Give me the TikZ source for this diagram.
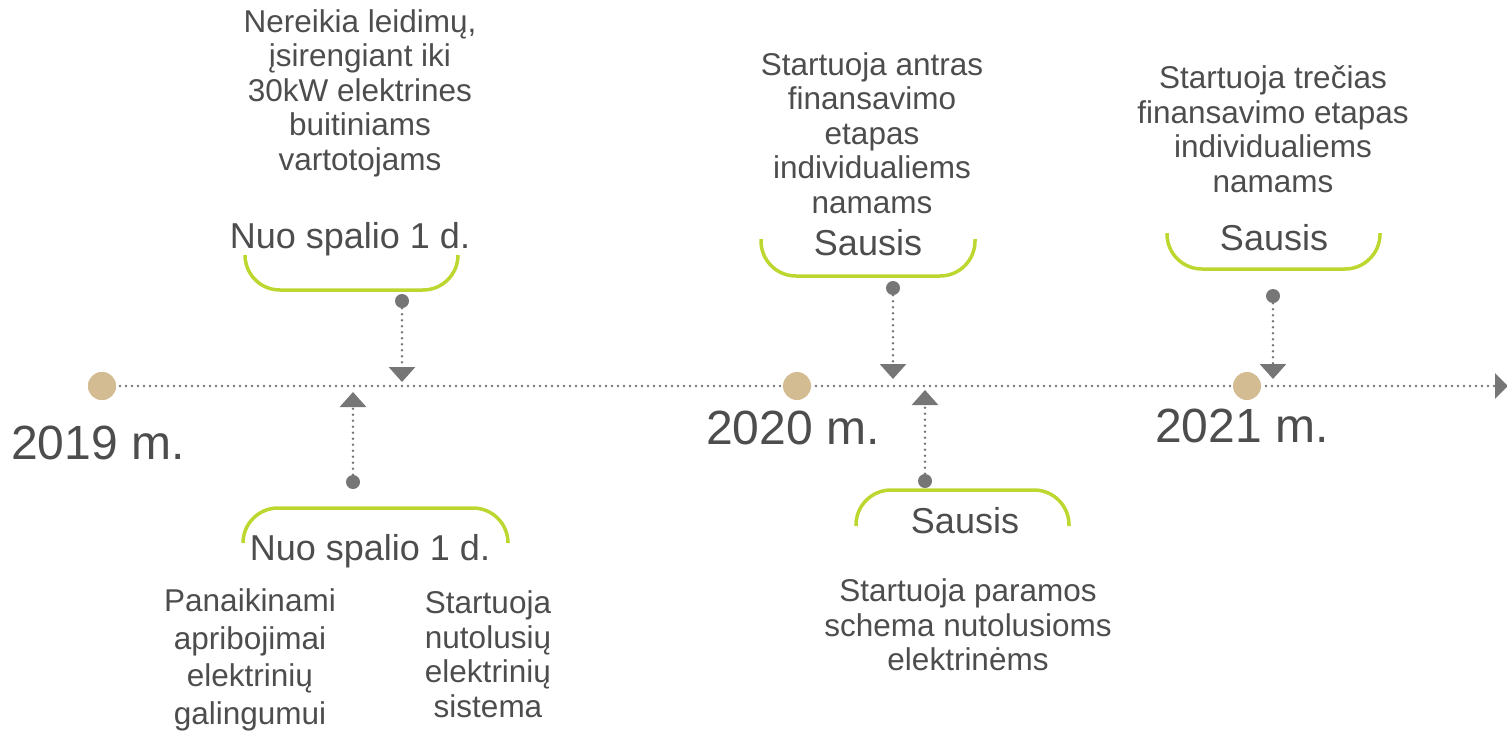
\documentclass[tikz,border=0pt]{standalone}
\usepackage{fontspec}
\setmainfont{Liberation Sans}
\usetikzlibrary{arrows.meta}
\definecolor{txt}{HTML}{4D4D4D}
\definecolor{grn}{HTML}{BED630}
\definecolor{tanc}{HTML}{D3BB92}
\definecolor{gry}{HTML}{767676}
\begin{document}
\begin{tikzpicture}[x=1pt,y=-1pt,
  yearlbl/.style={font=\fontsize{48}{52}\selectfont, text=txt, anchor=base, inner sep=0pt},
  datelbl/.style={font=\fontsize{36}{40}\selectfont, text=txt, anchor=base, inner sep=0pt},
  body/.style={font=\fontsize{31.5}{34.5}\selectfont, text=txt, align=center, inner sep=0pt},
  yeardot/.style={circle, fill=tanc, minimum size=28pt, inner sep=0pt},
  pin/.style={circle, fill=gry, minimum size=14pt, inner sep=0pt},
  axisline/.style={gry, line width=2.8pt, line cap=round, dash pattern=on 0pt off 6pt, -{Triangle[width=25pt,length=13pt]}},
  conn/.style={gry, line width=2.8pt, line cap=round, dash pattern=on 0pt off 6pt, -{Triangle[width=26pt,length=15pt]}},
  bracket/.style={grn, line width=3.5pt, rounded corners=35pt}
]
\useasboundingbox (0,0) rectangle (1507,731);

% axis
\coordinate (axend) at (1508,386);
\node[yeardot] (y19) at (102,386) {};
\draw[axisline] (y19.center) -- (axend);
\node[yeardot] (y19) at (102,386) {};
\node[yeardot] (y20) at (797,386) {};
\node[yeardot] (y21) at (1247,386) {};

% year labels
\node[yearlbl] (l19) at (98,459) {2019 m.};
\node[yearlbl] (l20) at (793,444) {2020 m.};
\node[yearlbl] (l21) at (1242,442) {2021 m.};

% pins and connectors
\node[pin] (p1) at (402,301) {};
\coordinate (a1) at (402,382);
\draw[conn] (p1) -- (a1);
\node[pin] (p2) at (353,482) {};
\coordinate (a2) at (353,392);
\draw[conn] (p2) -- (a2);
\node[pin] (p3) at (893,288) {};
\coordinate (a3) at (893,379);
\draw[conn] (p3) -- (a3);
\node[pin] (p4) at (925,481) {};
\coordinate (a4) at (925,390);
\draw[conn] (p4) -- (a4);
\node[pin] (p5) at (1273,296) {};
\coordinate (a5) at (1273,379);
\draw[conn] (p5) -- (a5);

% brackets
\draw[bracket] (245,255) -- (245,290) -- (458,290) -- (458,255);
\draw[bracket] (243,542) -- (243,508) -- (508,508) -- (508,542);
\draw[bracket] (761,239) -- (761,276) -- (975,276) -- (975,239);
\draw[bracket] (856,526) -- (856,490) -- (1069,490) -- (1069,526);
\draw[bracket] (1167,233) -- (1167,269) -- (1380,269) -- (1380,233);

% date labels
\node[datelbl] (d1) at (350,248) {Nuo spalio 1 d.};
\node[datelbl] (d2) at (370,560) {Nuo spalio 1 d.};
\node[datelbl] (d3) at (868,255) {Sausis};
\node[datelbl] (d4) at (965,533) {Sausis};
\node[datelbl] (d5) at (1274,250) {Sausis};

% body texts
\node[body] (t1) at (360,93) {Nereikia leidimų,\\įsirengiant iki\\30kW elektrines\\buitiniams\\vartotojams};
\node[body] (t2) at (250,660) {Panaikinami\\[3pt]apribojimai\\[3pt]elektrinių\\[3pt]galingumui};
\node[body] (t3) at (488,654) {Startuoja\\nutolusių\\elektrinių\\sistema};
\node[body] (t4) at (872,133) {Startuoja antras\\finansavimo\\etapas\\individualiems\\namams};
\node[body] (t5) at (968,625) {Startuoja paramos\\schema nutolusioms\\elektrinėms};
\node[body] (t6) at (1273,129) {Startuoja trečias\\finansavimo etapas\\individualiems\\namams};
\end{tikzpicture}
\end{document}
